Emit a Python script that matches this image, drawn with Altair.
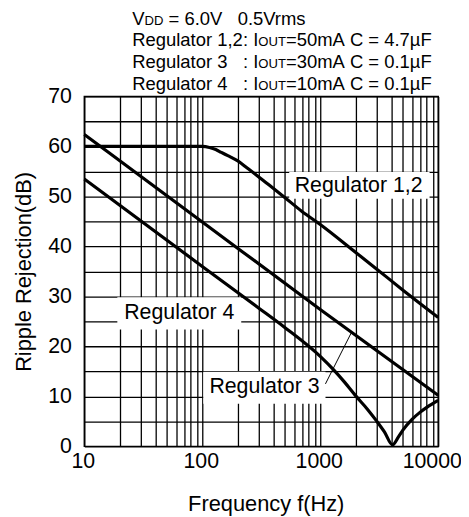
import altair as alt
import pandas as pd

# ---------------- data ----------------
freq_reg12 = [10, 20, 50, 100, 115, 130, 145, 170, 200, 240, 280, 350, 500, 700, 1000, 2000, 3000, 5000, 10000]
db_reg12 = [60, 60, 60, 60, 59.8, 59.4, 58.8, 58.0, 57.1, 55.7, 54.5, 52.7, 49.8, 47.0, 44.4, 38.8, 35.5, 31.3, 25.8]

freq_reg3 = [10, 100, 1000, 10000]
db_reg3 = [62.4, 44.9, 27.4, 10.2]

freq_reg4 = [10, 100, 300, 500, 1000, 1300, 1600, 2000, 2500, 3000, 3500, 4100, 4600, 5000, 6000, 7000, 8000, 10000]
db_reg4 = [53.5, 36.0, 27.7, 23.8, 18.0, 15.3, 12.9, 10.1, 7.5, 5.1, 2.9, 0.3, 1.9, 3.2, 5.4, 6.8, 7.8, 9.2]

series_names = ["Regulator 1,2", "Regulator 3", "Regulator 4"]

# curve labels as drawn in the picture (upper-right, left-middle, lower-middle)
curve_labels = ["Regulator 1,2", "Regulator 4", "Regulator 3"]

x_tick_values = [10, 100, 1000, 10000]
x_tick_labels = ["10", "100", "1000", "10000"]

leader_freq = [1107, 1840]
leader_db = [12.5, 22.8]

title_line1 = ["V", "DD", "= 6.0V   0.5Vrms"]
reg_names = ["Regulator 1,2", "Regulator 3", "Regulator 4"]
iout_vals = ["=50mA C = 4.7\u00b5F", "=30mA C = 0.1\u00b5F", "=10mA C = 0.1\u00b5F"]

# ---------------- tables ----------------
rows = []
for name, fs, ds in zip(series_names, [freq_reg12, freq_reg3, freq_reg4], [db_reg12, db_reg3, db_reg4]):
    for f, d in zip(fs, ds):
        rows.append({"series": name, "f": f, "db": d})
df = pd.DataFrame(rows)

grid_freqs = [m * 10 ** e for e in (1, 2, 3) for m in range(1, 10)] + [10000]
grid_db = list(range(0, 75, 5))

FONT = "Liberation Sans"
W, H = 357, 353
NB = "\u00a0"

# Arial / Liberation Sans advance widths (per 1000 em)
AW = {' ': 278, NB: 278, ',': 278, '.': 278, ':': 278, '=': 584, 'A': 667, 'C': 722, 'D': 722,
      'F': 611, 'I': 278, 'O': 778, 'R': 722, 'T': 611, 'U': 722, 'V': 667, 'a': 556,
      'e': 556, 'g': 556, 'l': 222, 'm': 833, 'o': 556, 'r': 333, 's': 500, 't': 278,
      'u': 556, '\u00b5': 576}
for d in "0123456789":
    AW[d] = 556


def tw(s, size):
    return sum(AW.get(c, 556) for c in s) / 1000.0 * size


one = pd.DataFrame({"k": [0]})

x_axis = alt.Axis(values=grid_freqs, grid=True, gridColor="black", gridWidth=1.3, gridOpacity=1,
                  labels=False, ticks=False, domain=False, zindex=0,
                  title="Frequency f(Hz)", titleFont=FONT, titleFontSize=22, titleFontWeight="normal",
                  titleColor="black", titleX=183, titleY=65, titleAlign="center",
                  titleBaseline="alphabetic")
y_axis = alt.Axis(values=grid_db, grid=True, gridColor="black", gridWidth=1.3, gridOpacity=1,
                  labelExpr="datum.value % 10 == 0 ? datum.label : ''",
                  labelFont=FONT, labelFontSize=21.5, labelColor="black", labelPadding=13,
                  ticks=False, tickSize=0, domain=False, zindex=0,
                  title="Ripple Rejection(dB)", titleFont=FONT, titleFontSize=22,
                  titleFontWeight="normal", titleColor="black", titleX=-54, titleY=176.5,
                  titleAngle=270, titleAlign="center", titleBaseline="alphabetic")

x_enc = alt.X("f:Q", scale=alt.Scale(type="log", domain=[10, 10000], nice=False), axis=x_axis)
y_enc = alt.Y("db:Q", scale=alt.Scale(domain=[0, 70], nice=False, zero=False), axis=y_axis)

layers = []

# white boxes behind the curve labels (plot-relative pixels)
boxes = [(206.7, 348.3, 76.3, 103.3), (33.3, 158.3, 202.5, 235.0), (120.0, 243.3, 277.8, 310.0)]
for x0, x1, y0, y1 in boxes:
    layers.append(alt.Chart(one).mark_rect(color="white").encode(
        x=alt.value(x0), x2=alt.value(x1), y=alt.value(y0), y2=alt.value(y1)))

lines = alt.Chart(df).mark_line(color="black", strokeWidth=3.2, interpolate="monotone").encode(
    x=x_enc, y=y_enc, detail="series:N")
layers.append(lines)

leader_df = pd.DataFrame({"f": [leader_freq[0]], "db": [leader_db[0]],
                          "f2": [leader_freq[1]], "db2": [leader_db[1]]})
layers.append(alt.Chart(leader_df).mark_rule(color="black", strokeWidth=1).encode(
    x=x_enc, y=y_enc, x2="f2:Q", y2="db2:Q"))

# curve labels
label_pos = [(276.7, 96), (95.8, 225), (181.7, 299)]
for name, (cx, by) in zip(curve_labels, label_pos):
    layers.append(alt.Chart(one).mark_text(text=name, font=FONT, fontSize=21.5, color="black",
                                            align="center", baseline="alphabetic").encode(
        x=alt.value(cx), y=alt.value(by)))

# x tick labels
xt = pd.DataFrame({"f": x_tick_values[:3], "lab": x_tick_labels[:3]})
layers.append(alt.Chart(xt).mark_text(font=FONT, fontSize=21.5, color="black", align="center",
                                      baseline="alphabetic", dx=-1).encode(
    x=x_enc, y=alt.value(375), text="lab:N"))
xt2 = pd.DataFrame({"f": x_tick_values[3:], "lab": x_tick_labels[3:]})
layers.append(alt.Chart(xt2).mark_text(font=FONT, fontSize=21.5, color="black", align="center",
                                       baseline="alphabetic", dx=-6).encode(
    x=x_enc, y=alt.value(375), text="lab:N"))

# header text
BIG, SMALL = 18.6, 13.2
x0 = 48.3
base_y = [-72.5, -50.5, -28.7, -7]


def seg(text, x, y, size):
    t = text.replace(" ", NB)
    return alt.Chart(one).mark_text(text=t, font=FONT, fontSize=size, color="black",
                                    align="left", baseline="alphabetic").encode(
        x=alt.value(x), y=alt.value(y))


cx = x0
for i, t in enumerate(title_line1):
    size = SMALL if i == 1 else BIG
    if i == 2:
        cx += tw(" ", BIG)
    layers.append(seg(t, cx, base_y[0], size))
    cx += tw(t, size)

xc = x0 + tw(reg_names[0], BIG)
for i in range(3):
    y = base_y[i + 1]
    layers.append(seg(reg_names[i], x0, y, BIG))
    cx = xc
    layers.append(seg(":", cx, y, BIG))
    cx += tw(": ", BIG)
    layers.append(seg("I", cx, y, BIG))
    cx += tw("I", BIG)
    layers.append(seg("OUT", cx, y, SMALL))
    cx += tw("OUT", SMALL)
    layers.append(seg(iout_vals[i], cx, y, BIG))

chart = alt.layer(*layers).properties(
    width=W, height=H,
    autosize=alt.AutoSizeParams(type="none"),
    padding={"left": 77, "top": 87, "right": 23, "bottom": 69},
).configure_view(stroke="black", strokeWidth=1.5)

chart.save("out.html", embed_options={"renderer": "svg", "actions": False})
